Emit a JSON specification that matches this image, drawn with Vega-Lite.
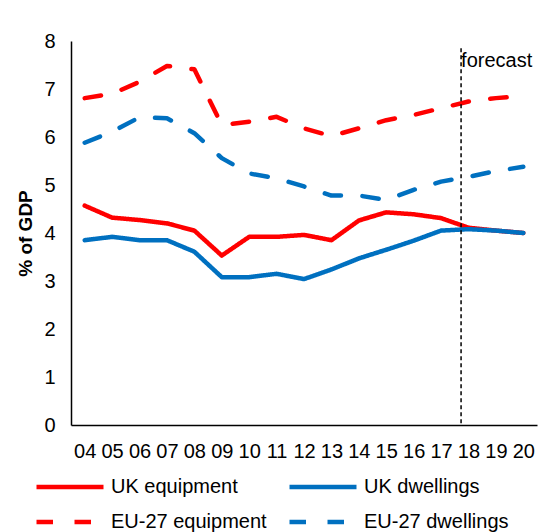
{
  "$schema": "https://vega.github.io/schema/vega-lite/v6.json",
  "width": 466,
  "height": 384,
  "autosize": {"type": "none"},
  "padding": {"left": 71, "top": 41, "right": 5, "bottom": 107},
  "background": "white",
  "config": {
    "view": {"stroke": null},
    "font": "Liberation Sans",
    "axis": {
      "grid": false,
      "ticks": false,
      "domainColor": "black",
      "domainWidth": 1.5,
      "labelColor": "black",
      "labelFont": "Liberation Sans",
      "labelFontSize": 20,
      "titleColor": "black",
      "titleFont": "Liberation Sans"
    },
    "legend": {
      "labelFont": "Liberation Sans",
      "labelFontSize": 20,
      "labelColor": "black"
    }
  },
  "resolve": {"axis": {"x": "independent", "y": "independent"}},
  "datasets": {
    "series": [
      {"year": 4, "series": "UK equipment", "value": 4.57},
      {"year": 5, "series": "UK equipment", "value": 4.32},
      {"year": 6, "series": "UK equipment", "value": 4.27},
      {"year": 7, "series": "UK equipment", "value": 4.2},
      {"year": 8, "series": "UK equipment", "value": 4.05},
      {"year": 9, "series": "UK equipment", "value": 3.53},
      {"year": 10, "series": "UK equipment", "value": 3.92},
      {"year": 11, "series": "UK equipment", "value": 3.92},
      {"year": 12, "series": "UK equipment", "value": 3.96},
      {"year": 13, "series": "UK equipment", "value": 3.85},
      {"year": 14, "series": "UK equipment", "value": 4.26},
      {"year": 15, "series": "UK equipment", "value": 4.43},
      {"year": 16, "series": "UK equipment", "value": 4.39},
      {"year": 17, "series": "UK equipment", "value": 4.31},
      {"year": 18, "series": "UK equipment", "value": 4.11},
      {"year": 19, "series": "UK equipment", "value": 4.05},
      {"year": 20, "series": "UK equipment", "value": 4.0},
      {"year": 4, "series": "UK dwellings", "value": 3.85},
      {"year": 5, "series": "UK dwellings", "value": 3.92},
      {"year": 6, "series": "UK dwellings", "value": 3.85},
      {"year": 7, "series": "UK dwellings", "value": 3.85},
      {"year": 8, "series": "UK dwellings", "value": 3.61},
      {"year": 9, "series": "UK dwellings", "value": 3.08},
      {"year": 10, "series": "UK dwellings", "value": 3.08},
      {"year": 11, "series": "UK dwellings", "value": 3.15},
      {"year": 12, "series": "UK dwellings", "value": 3.04},
      {"year": 13, "series": "UK dwellings", "value": 3.24},
      {"year": 14, "series": "UK dwellings", "value": 3.47},
      {"year": 15, "series": "UK dwellings", "value": 3.65},
      {"year": 16, "series": "UK dwellings", "value": 3.84},
      {"year": 17, "series": "UK dwellings", "value": 4.05},
      {"year": 18, "series": "UK dwellings", "value": 4.08},
      {"year": 19, "series": "UK dwellings", "value": 4.05},
      {"year": 20, "series": "UK dwellings", "value": 4.0},
      {"year": 4, "series": "EU-27 equipment", "value": 6.81},
      {"year": 5, "series": "EU-27 equipment", "value": 6.9},
      {"year": 6, "series": "EU-27 equipment", "value": 7.15},
      {"year": 7, "series": "EU-27 equipment", "value": 7.48},
      {"year": 8, "series": "EU-27 equipment", "value": 7.41},
      {"year": 9, "series": "EU-27 equipment", "value": 6.25},
      {"year": 10, "series": "EU-27 equipment", "value": 6.32},
      {"year": 11, "series": "EU-27 equipment", "value": 6.42},
      {"year": 12, "series": "EU-27 equipment", "value": 6.18},
      {"year": 13, "series": "EU-27 equipment", "value": 6.02},
      {"year": 14, "series": "EU-27 equipment", "value": 6.18},
      {"year": 15, "series": "EU-27 equipment", "value": 6.35},
      {"year": 16, "series": "EU-27 equipment", "value": 6.46},
      {"year": 17, "series": "EU-27 equipment", "value": 6.6},
      {"year": 18, "series": "EU-27 equipment", "value": 6.74},
      {"year": 19, "series": "EU-27 equipment", "value": 6.81},
      {"year": 20, "series": "EU-27 equipment", "value": 6.85},
      {"year": 4, "series": "EU-27 dwellings", "value": 5.88},
      {"year": 5, "series": "EU-27 dwellings", "value": 6.11},
      {"year": 6, "series": "EU-27 dwellings", "value": 6.41},
      {"year": 7, "series": "EU-27 dwellings", "value": 6.39},
      {"year": 8, "series": "EU-27 dwellings", "value": 6.08},
      {"year": 9, "series": "EU-27 dwellings", "value": 5.56},
      {"year": 10, "series": "EU-27 dwellings", "value": 5.24},
      {"year": 11, "series": "EU-27 dwellings", "value": 5.14},
      {"year": 12, "series": "EU-27 dwellings", "value": 4.97},
      {"year": 13, "series": "EU-27 dwellings", "value": 4.78},
      {"year": 14, "series": "EU-27 dwellings", "value": 4.78},
      {"year": 15, "series": "EU-27 dwellings", "value": 4.69},
      {"year": 16, "series": "EU-27 dwellings", "value": 4.9},
      {"year": 17, "series": "EU-27 dwellings", "value": 5.07},
      {"year": 18, "series": "EU-27 dwellings", "value": 5.17},
      {"year": 19, "series": "EU-27 dwellings", "value": 5.29},
      {"year": 20, "series": "EU-27 dwellings", "value": 5.38}
    ],
    "marker": [
      {"x": 17.73, "top": 7.85, "bottom": 0, "ylabel": 7.58, "label": "forecast"}
    ]
  },
  "layer": [
    {
      "data": {"name": "series"},
      "mark": {"type": "line", "strokeWidth": 4.5, "strokeCap": "round", "strokeJoin": "round"},
      "encoding": {
        "x": {
          "field": "year", "type": "quantitative", "title": null,
          "scale": {"domain": [3.5, 20.5], "nice": false, "zero": false},
          "axis": {
            "values": [4,5,6,7,8,9,10,11,12,13,14,15,16,17,18,19,20],
            "labelExpr": "datum.value < 10 ? '0' + datum.value : '' + datum.value",
            "labelPadding": 16,
            "labelFlush": false,
            "labelOverlap": false
          }
        },
        "y": {
          "field": "value", "type": "quantitative", "title": "% of GDP",
          "scale": {"domain": [0, 8], "nice": false},
          "axis": {
            "values": [0,1,2,3,4,5,6,7,8],
            "labelPadding": 16,
            "titleFontSize": 19,
            "titleFontWeight": "bold",
            "titlePadding": 8
          }
        },
        "color": {
          "field": "series", "type": "nominal",
          "scale": {
            "domain": ["UK equipment", "UK dwellings", "EU-27 equipment", "EU-27 dwellings"],
            "range": ["#FF0000", "#0070C0", "#FF0000", "#0070C0"]
          },
          "legend": {
            "title": null,
            "orient": "none",
            "legendX": -37,
            "legendY": 436,
            "columns": 2,
            "direction": "horizontal",
            "symbolType": "stroke",
            "symbolSize": 4489,
            "symbolStrokeWidth": 4.5,
            "clipHeight": 20,
            "labelOffset": 5,
            "columnPadding": 20,
            "rowPadding": 15,
            "padding": 0
          }
        },
        "strokeDash": {
          "field": "series", "type": "nominal",
          "scale": {
            "domain": ["UK equipment", "UK dwellings", "EU-27 equipment", "EU-27 dwellings"],
            "range": [[1, 0], [1, 0], [16.5, 21.5], [16.5, 21.5]]
          },
          "legend": {
            "title": null,
            "orient": "none",
            "legendX": -37,
            "legendY": 436,
            "columns": 2,
            "direction": "horizontal",
            "symbolType": "stroke",
            "symbolSize": 4489,
            "symbolStrokeWidth": 4.5,
            "clipHeight": 20,
            "labelOffset": 5,
            "columnPadding": 20,
            "rowPadding": 15,
            "padding": 0
          }
        }
      }
    },
    {
      "data": {"name": "marker"},
      "mark": {"type": "rule", "color": "black", "strokeWidth": 1.5, "strokeDash": [4, 3]},
      "encoding": {
        "x": {"field": "x", "type": "quantitative", "axis": null},
        "y": {"field": "top", "type": "quantitative", "axis": null},
        "y2": {"field": "bottom"}
      }
    },
    {
      "data": {"name": "marker"},
      "mark": {"type": "text", "align": "left", "baseline": "middle", "fontSize": 20, "dx": 0, "color": "black", "font": "Liberation Sans"},
      "encoding": {
        "x": {"field": "x", "type": "quantitative", "axis": null},
        "y": {"field": "ylabel", "type": "quantitative", "axis": null},
        "text": {"field": "label"}
      }
    }
  ]
}
